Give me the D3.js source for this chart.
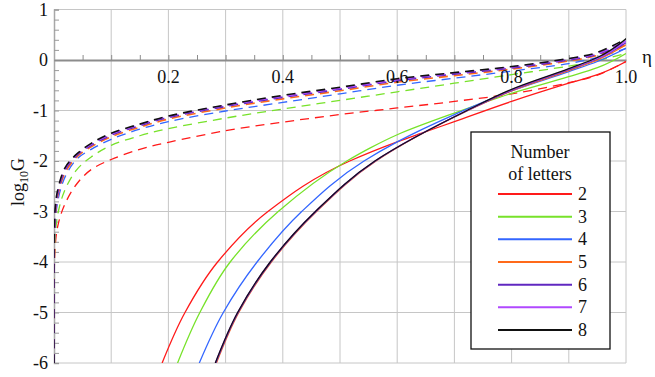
<!DOCTYPE html>
<html>
<head>
<meta charset="utf-8">
<script src="https://cdn.jsdelivr.net/npm/d3@7"></script>
<style>
  body { margin: 0; background: #fff; }
  svg text { font-family: "Liberation Serif", "Times New Roman", "DejaVu Serif", serif; }
</style>
</head>
<body>
<div id="chart"></div>
<script>
// number of letters
var letters = [2, 3, 4, 5, 6, 7, 8];
var colors = ["#ff1a1a", "#77e22a", "#3366ff", "#ff6a1a", "#6028c0", "#b048ff", "#111111"];

// dashed curves share one eta grid
var etaDashed = [0, 0.002, 0.008, 0.02, 0.04, 0.065, 0.1, 0.15, 0.2, 0.3, 0.4, 0.5, 0.6, 0.7, 0.8, 0.9, 0.95, 1.0];
var dashed2 = [-6, -3.70, -3.22, -2.83, -2.45, -2.17, -1.97, -1.77, -1.63, -1.40, -1.23, -1.08, -0.95, -0.82, -0.67, -0.45, -0.30, -0.03];
var dashed3 = [-6, -3.50, -2.98, -2.55, -2.17, -1.92, -1.69, -1.50, -1.36, -1.15, -0.97, -0.80, -0.63, -0.46, -0.29, -0.12, -0.01, 0.13];
var dashed4 = [-6, -3.30, -2.72, -2.30, -1.96, -1.77, -1.57, -1.37, -1.22, -1.01, -0.84, -0.67, -0.50, -0.36, -0.22, -0.07, 0.05, 0.23];
var dashed5 = [-6, -3.15, -2.62, -2.22, -1.92, -1.72, -1.52, -1.33, -1.17, -0.95, -0.77, -0.61, -0.44, -0.31, -0.18, -0.02, 0.09, 0.30];
var dashed6 = [-6, -3.05, -2.57, -2.17, -1.89, -1.69, -1.49, -1.30, -1.14, -0.92, -0.74, -0.58, -0.41, -0.28, -0.16, 0.00, 0.11, 0.34];
var dashed7 = [-6, -3.00, -2.53, -2.14, -1.87, -1.67, -1.47, -1.28, -1.12, -0.90, -0.72, -0.56, -0.39, -0.26, -0.14, 0.02, 0.13, 0.38];
var dashed8 = [-6, -2.95, -2.50, -2.12, -1.86, -1.65, -1.45, -1.27, -1.11, -0.89, -0.70, -0.54, -0.37, -0.25, -0.13, 0.03, 0.15, 0.42];

// solid curves: [eta, log10 G]
var solid2 = [[0.189, -6], [0.229, -5], [0.286, -4], [0.374, -3], [0.517, -2], [0.6, -1.62], [0.65, -1.42], [0.7, -1.22], [0.8, -0.82], [0.9, -0.46], [0.95, -0.29], [1.0, -0.03]];
var solid3 = [[0.216, -6], [0.255, -5], [0.308, -4], [0.392, -3], [0.512, -2], [0.553, -1.74], [0.6, -1.48], [0.7, -1.05], [0.8, -0.66], [0.9, -0.33], [0.95, -0.15], [1.0, 0.13]];
var solid4 = [[0.254, -6], [0.296, -5], [0.355, -4], [0.433, -3], [0.542, -2], [0.6, -1.62], [0.7, -1.08], [0.8, -0.61], [0.9, -0.23], [0.95, -0.03], [1.0, 0.23]];
var solid5 = [[0.284, -6], [0.323, -5], [0.380, -4], [0.459, -3], [0.563, -2], [0.724, -1], [0.8, -0.61], [0.9, -0.21], [0.95, 0.0], [1.0, 0.30]];
var solid6 = [[0.283, -6], [0.322, -5], [0.379, -4], [0.458, -3], [0.562, -2], [0.723, -1], [0.8, -0.60], [0.9, -0.19], [0.95, 0.02], [1.0, 0.34]];
var solid7 = [[0.282, -6], [0.321, -5], [0.378, -4], [0.457, -3], [0.561, -2], [0.722, -1], [0.8, -0.59], [0.9, -0.18], [0.95, 0.03], [1.0, 0.38]];
var solid8 = [[0.282, -6], [0.321, -5], [0.378, -4], [0.457, -3], [0.561, -2], [0.722, -1], [0.8, -0.58], [0.9, -0.17], [0.95, 0.05], [1.0, 0.42]];

var dashedSeries = [dashed2, dashed3, dashed4, dashed5, dashed6, dashed7, dashed8];
var solidSeries = [solid2, solid3, solid4, solid5, solid6, solid7, solid8];

var xLabels = [0.2, 0.4, 0.6, 0.8, 1.0];
var yLabels = [1, 0, -1, -2, -3, -4, -5, -6];

var width = 655,
    height = 377;

var x = d3.scaleLinear().domain([0, 1]).range([54, 626]);
var y = d3.scaleLinear().domain([-6, 1]).range([363, 9.5]);

var svg = d3.select("#chart")
    .append("svg")
    .attr("width", width)
    .attr("height", height);

svg.append("clipPath").attr("id", "plot")
    .append("rect")
    .attr("x", x(0)).attr("y", y(1))
    .attr("width", x(1) - x(0)).attr("height", y(-6) - y(1));

// grid
var grid = svg.append("g").attr("stroke", "#c6c6c6").attr("stroke-width", 1);
grid.selectAll(".gx").data(d3.range(1, 11).map(function (i) { return i / 10; }))
    .enter().append("line")
    .attr("x1", function (d) { return x(d); }).attr("x2", function (d) { return x(d); })
    .attr("y1", y(1)).attr("y2", y(-6));
grid.selectAll(".gy").data(yLabels.filter(function (d) { return d !== 0; }))
    .enter().append("line")
    .attr("x1", x(0)).attr("x2", x(1))
    .attr("y1", function (d) { return y(d); }).attr("y2", function (d) { return y(d); });

// y axis with minor ticks every 0.2
var yAxis = d3.axisRight(y)
    .tickValues(d3.range(-30, 6).map(function (i) { return i / 5; }))
    .tickSize(5)
    .tickFormat("");
var gy = svg.append("g").attr("transform", "translate(" + x(0) + ",0)").call(yAxis);
gy.select(".domain").attr("stroke", "#a8a8a8").attr("stroke-width", 1.5);
gy.selectAll(".tick line").attr("stroke", "#9a9a9a");

// x axis (at log G = 0) with minor ticks every 0.05
var xAxis = d3.axisTop(x)
    .tickValues(d3.range(1, 20).map(function (i) { return i / 20; }))
    .tickSize(5)
    .tickSizeOuter(0)
    .tickFormat("");
var gx = svg.append("g").attr("transform", "translate(0," + y(0) + ")").call(xAxis);
gx.select(".domain").attr("stroke", "#8c8c8c").attr("stroke-width", 2);
gx.selectAll(".tick line").attr("stroke", "#8c8c8c");

// curves
var dashLine = d3.line()
    .x(function (d) { return x(d[0]); })
    .y(function (d) { return y(d[1]); })
    .curve(d3.curveCatmullRom.alpha(0.5));
var solidLine = d3.line()
    .x(function (d) { return x(d[0]); })
    .y(function (d) { return y(d[1]); })
    .curve(d3.curveMonotoneY);

var curves = svg.append("g").attr("clip-path", "url(#plot)").attr("fill", "none");

dashedSeries.forEach(function (vals, i) {
    curves.append("path")
        .datum(etaDashed.map(function (e, j) { return [e, vals[j]]; }))
        .attr("d", dashLine)
        .attr("stroke", colors[i])
        .attr("stroke-width", i >= 3 ? 1.6 : 1.3)
        .attr("stroke-dasharray", "9,6");
});

solidSeries.forEach(function (pts, i) {
    curves.append("path")
        .datum(pts)
        .attr("d", solidLine)
        .attr("stroke", colors[i])
        .attr("stroke-width", 1.3);
});

// text
var txt = svg.append("g").attr("fill", "#111");

txt.selectAll(".xl").data(xLabels)
    .enter().append("text")
    .attr("x", function (d) { return x(d); })
    .attr("y", y(0) + 23)
    .attr("text-anchor", "middle")
    .attr("font-size", 18)
    .text(function (d) { return d.toFixed(1); });

txt.selectAll(".yl").data(yLabels)
    .enter().append("text")
    .attr("x", 48)
    .attr("y", function (d) { return y(d) + 6; })
    .attr("text-anchor", "end")
    .attr("font-size", 18)
    .text(function (d) { return d; });

txt.append("text")
    .attr("x", 642).attr("y", 63)
    .attr("font-size", 19)
    .text("η");

var yt = txt.append("text")
    .attr("transform", "translate(24,182) rotate(-90)")
    .attr("text-anchor", "middle")
    .attr("font-size", 18);
yt.append("tspan").text("log");
yt.append("tspan").attr("font-size", 12).attr("dy", 4).text("10");
yt.append("tspan").attr("dy", -4).text("G");

// legend
var lg = svg.append("g");
lg.append("rect")
    .attr("x", 471).attr("y", 132)
    .attr("width", 139).attr("height", 217)
    .attr("fill", "#fff").attr("stroke", "#111").attr("stroke-width", 1.3);
lg.append("text").attr("x", 540).attr("y", 158).attr("text-anchor", "middle").attr("font-size", 18).attr("fill", "#111").text("Number");
lg.append("text").attr("x", 540).attr("y", 180).attr("text-anchor", "middle").attr("font-size", 18).attr("fill", "#111").text("of letters");

var ly = d3.scalePoint().domain(letters).range([194, 330]);
var items = lg.selectAll(".item").data(letters).enter().append("g");
items.append("line")
    .attr("x1", 498).attr("x2", 572)
    .attr("y1", function (d) { return ly(d); }).attr("y2", function (d) { return ly(d); })
    .attr("stroke", function (d, i) { return colors[i]; })
    .attr("stroke-width", 2);
items.append("text")
    .attr("x", 578)
    .attr("y", function (d) { return ly(d) + 6; })
    .attr("font-size", 18)
    .attr("fill", "#111")
    .text(function (d) { return d; });
</script>
</body>
</html>
